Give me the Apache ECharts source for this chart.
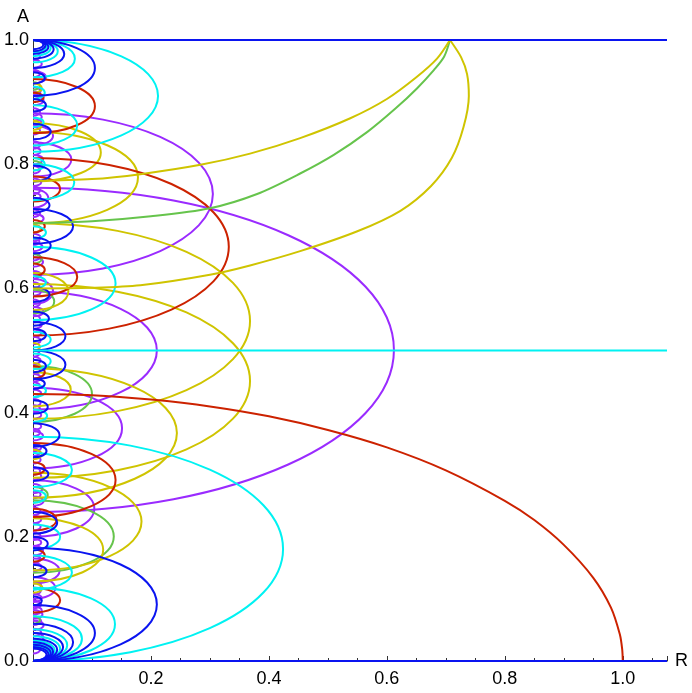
<!DOCTYPE html>
<html><head><meta charset="utf-8">
<script src="https://cdn.jsdelivr.net/npm/echarts/dist/echarts.min.js"></script>
<style>html,body{margin:0;padding:0;background:#fff}#c{width:692px;height:693px}</style>
</head><body><div id="c"></div>
<script>
// ---- data (R = x, A = y) ----
const xTickValues = [0.2,0.4,0.6,0.8,1.0];
const xTickLabels = ['0.2','0.4','0.6','0.8','1.0'];
const yTickLabels = ['0.0','0.2','0.4','0.6','0.8','1.0'];

const lineTopBlue = [[0,1],[1.075,1]];
const lineBottomBlue = [[0,0],[1.075,0]];
const lineMidCyan = [[0,0.5],[1.075,0.5]];

const redQuarter = [[1.0,0],[0.999,0.019],[0.995,0.043],[0.98,0.086],[0.95,0.134],[0.9,0.187],[0.85,0.227],[0.8,0.258],[0.7,0.307],[0.6,0.344],[0.5,0.372],[0.4,0.394],[0.3,0.41],[0.2,0.421],[0.1,0.428],[0,0.43]];
const greenToCorner = [[0,0.705],[0.1,0.708],[0.2,0.716],[0.3,0.729],[0.38,0.752],[0.453,0.785],[0.51,0.815],[0.567,0.852],[0.615,0.89],[0.651,0.922],[0.68,0.952],[0.697,0.973],[0.707,1.0]];
const yellowUpperToCorner = [[0,0.773],[0.1,0.776],[0.182,0.784],[0.284,0.799],[0.368,0.817],[0.453,0.842],[0.538,0.874],[0.6,0.905],[0.65,0.94],[0.685,0.97],[0.707,1.0]];
const yellowLowerToCorner = [[0,0.6],[0.1,0.601],[0.182,0.605],[0.3,0.622],[0.368,0.637],[0.453,0.66],[0.55,0.692],[0.623,0.725],[0.675,0.765],[0.71,0.81],[0.73,0.86],[0.739,0.91],[0.736,0.945],[0.726,0.972],[0.707,1.0]];

// half-ellipse arcs on the A axis: [A low end, A high end, R at widest point]
const blueArcs = [
  [0,0.182,0.21],[0,0.09,0.105],[0,0.06,0.068],[0,0.045,0.051],[0,0.036,0.041],[0,0.03,0.034],[0,0.026,0.03],[0,0.0225,0.026],[0,0.02,0.023],
  [0.91,1,0.105],[0.955,1,0.053],[0.97,1,0.035],[0.9775,1,0.026],[0.982,1,0.021],[0.985,1,0.0175],
  [0.454,0.5,0.055],[0.5,0.546,0.055],[0.672,0.728,0.068],
  [0.345,0.383,0.045],[0.205,0.24,0.041],[0.29,0.312,0.026],
  [0.84,0.865,0.03],[0.772,0.798,0.03],[0.722,0.746,0.028],[0.656,0.682,0.03],[0.578,0.602,0.028],[0.54,0.563,0.027],
  [0.515,0.535,0.022],[0.465,0.485,0.022],[0.438,0.455,0.02],[0.398,0.42,0.025],[0.328,0.348,0.023],[0.178,0.2,0.025],
  [0.135,0.155,0.023],[0.09,0.104,0.015],[0.885,0.905,0.022],[0.93,0.948,0.02]
];
const cyanArcs = [
  [0,0.361,0.424],[0,0.118,0.139],[0,0.072,0.083],[0,0.051,0.058],[0,0.04,0.046],[0,0.033,0.037],[0,0.028,0.032],[0,0.024,0.028],
  [0.82,1,0.212],[0.94,1,0.071],[0.964,1,0.042],[0.974,1,0.03],[0.98,1,0.023],
  [0.549,0.667,0.14],[0.742,0.8,0.07],[0.83,0.895,0.075],[0.28,0.335,0.066],[0.115,0.17,0.066],[0.18,0.22,0.046],
  [0.505,0.53,0.03],[0.47,0.495,0.03],[0.385,0.405,0.024],[0.425,0.445,0.022],[0.6,0.62,0.022],[0.68,0.7,0.022],
  [0.255,0.275,0.022],[0.86,0.875,0.018],[0.79,0.81,0.02],[0.905,0.925,0.02]
];
const redArcs = [
  [0.524,0.81,0.332],[0.85,0.937,0.105],[0.587,0.65,0.075],[0.74,0.78,0.046],[0.232,0.351,0.14],[0.078,0.118,0.046],
  [0.21,0.245,0.04],[0.62,0.64,0.02],[0.455,0.475,0.02],[0.3,0.32,0.02],[0.16,0.18,0.02],[0.69,0.71,0.02],[0.9,0.915,0.018]
];
const purpleArcs = [
  [0.24,0.762,0.612],[0.622,0.882,0.305],[0.405,0.595,0.21],[0.31,0.44,0.151],[0.2,0.291,0.104],[0.78,0.835,0.065],
  [0.125,0.165,0.045],[0.1,0.135,0.038],[0.575,0.615,0.034],[0.83,0.862,0.034],[0.73,0.76,0.026],[0.93,0.95,0.022],
  [0.03,0.045,0.018],[0.05,0.065,0.018],[0.068,0.082,0.016],[0.145,0.158,0.015],[0.17,0.185,0.017],[0.25,0.265,0.018],
  [0.27,0.285,0.016],[0.355,0.37,0.017],[0.39,0.402,0.014],[0.45,0.462,0.014],[0.535,0.548,0.015],[0.555,0.57,0.018],
  [0.635,0.65,0.017],[0.66,0.674,0.016],[0.705,0.72,0.018],[0.8,0.815,0.017],[0.87,0.882,0.015],[0.895,0.91,0.018],[0.955,0.968,0.015],
  [0.085,0.097,0.014],[0.107,0.118,0.013],[0.185,0.197,0.014],[0.222,0.234,0.014],[0.292,0.304,0.014],[0.318,0.33,0.013],
  [0.338,0.35,0.014],[0.372,0.384,0.014],[0.41,0.422,0.013],[0.425,0.437,0.014],[0.478,0.49,0.013],[0.51,0.522,0.013],
  [0.522,0.534,0.014],[0.588,0.6,0.013],[0.616,0.628,0.014],[0.676,0.688,0.013],[0.69,0.702,0.014],[0.742,0.754,0.013],
  [0.765,0.777,0.014],[0.815,0.827,0.013],[0.862,0.874,0.014],[0.912,0.924,0.013],[0.968,0.98,0.012],
  [0.012,0.024,0.012],[0.02,0.032,0.012],[0.04,0.052,0.014],[0.058,0.07,0.014],[0.075,0.088,0.015],[0.095,0.108,0.015],
  [0.115,0.128,0.014],[0.158,0.17,0.013],[0.195,0.207,0.013],[0.21,0.222,0.013],[0.235,0.247,0.013],[0.262,0.274,0.013],
  [0.3,0.312,0.012],[0.33,0.342,0.012],[0.362,0.374,0.012],[0.4,0.412,0.012],[0.437,0.449,0.012],[0.462,0.474,0.012],
  [0.49,0.5,0.011],[0.545,0.557,0.012],[0.57,0.582,0.012],[0.6,0.61,0.011],[0.645,0.657,0.012],[0.67,0.68,0.011],
  [0.715,0.727,0.012],[0.752,0.764,0.012],[0.785,0.797,0.012],[0.825,0.837,0.012],[0.848,0.86,0.012],[0.878,0.89,0.012],
  [0.905,0.917,0.012],[0.94,0.952,0.012]
];
const yellowArcs = [
  [0.39,0.705,0.368],[0.295,0.607,0.368],[0.263,0.471,0.244],[0.146,0.303,0.184],[0.128,0.23,0.119],[0.705,0.852,0.178],
  [0.772,0.866,0.115],[0.41,0.465,0.064],[0.565,0.625,0.06],
  [0.11,0.125,0.016],[0.325,0.34,0.015],[0.855,0.87,0.015],[0.915,0.93,0.015],[0.5,0.512,0.012],[0.69,0.702,0.013],[0.47,0.48,0.012]
];
const greenArcs = [
  [0.142,0.259,0.137],[0.385,0.475,0.1],[0.56,0.598,0.036],[0.255,0.28,0.025],[0.79,0.805,0.016],[0.64,0.655,0.015],[0.06,0.072,0.012],[0.92,0.932,0.012]
];

// ---- colours ----
const C = {blue:'#0a14f0', cyan:'#00f2f2', red:'#cc2200', purple:'#9a2bff', yellow:'#cfc400', green:'#66c44c'};
const FONT = 'Liberation Sans, Arial, sans-serif';

function arcRenderer(color){
  return function(params, api){
    const lo = api.value(0), hi = api.value(1), r = api.value(2);
    const top = api.coord([0, hi]), bot = api.coord([0, lo]), side = api.coord([r, (lo+hi)/2]);
    const cx = top[0], rx = side[0] - cx, ry = (bot[1] - top[1]) / 2, cy = (top[1] + bot[1]) / 2, k = 0.5523;
    const d = 'M' + cx + ' ' + top[1] +
      ' C' + (cx + k*rx) + ' ' + top[1] + ' ' + (cx + rx) + ' ' + (cy - k*ry) + ' ' + (cx + rx) + ' ' + cy +
      ' C' + (cx + rx) + ' ' + (cy + k*ry) + ' ' + (cx + k*rx) + ' ' + bot[1] + ' ' + cx + ' ' + bot[1];
    return {type:'path', shape:{pathData:d}, style:{fill:'none', stroke:color, lineWidth:2}};
  };
}
function arcSeries(data, color){
  return {type:'custom', data:data, renderItem:arcRenderer(color), animation:false, silent:true, z:2, clip:true};
}
function lineSeries(data, color, smooth){
  return {type:'line', data:data, smooth:smooth, showSymbol:false, animation:false, silent:true, z:3,
    lineStyle:{color:color, width:2}};
}

const chart = echarts.init(document.getElementById('c'), null, {renderer:'canvas'});
const axisCommon = {
  type:'value', splitLine:{show:false},
  axisLine:{show:true, onZero:false, lineStyle:{color:'#333', width:1}},
  axisTick:{show:true, inside:true, length:5, lineStyle:{color:'#333'}},
  minorTick:{show:true, splitNumber:4, length:3, lineStyle:{color:'#333'}},
  nameTextStyle:{fontFamily:FONT, fontSize:18, color:'#000'}
};
chart.setOption({
  backgroundColor:'#fff',
  grid:{left:33, right:25, top:40, bottom:32, containLabel:false},
  xAxis:Object.assign({}, axisCommon, {
    min:0, max:1.075, interval:0.2, name:'R', nameLocation:'end', nameGap:8,
    axisLabel:{fontFamily:FONT, fontSize:18, color:'#000', margin:9, showMaxLabel:false,
      formatter:function(v){
        for (let i = 0; i < xTickValues.length; i++) { if (Math.abs(v - xTickValues[i]) < 1e-6) return xTickLabels[i]; }
        return '';
      }}
  }),
  yAxis:Object.assign({}, axisCommon, {
    min:0, max:1, interval:0.2, name:'A', nameLocation:'end', nameGap:14,
    nameTextStyle:{fontFamily:FONT, fontSize:18, color:'#000', align:'right', padding:[0,4,0,0]},
    axisLabel:{fontFamily:FONT, fontSize:18, color:'#000', margin:4,
      formatter:function(v){ const i = Math.round(v/0.2); return yTickLabels[i] || ''; }}
  }),
  series:[
    arcSeries(purpleArcs, C.purple),
    arcSeries(greenArcs, C.green),
    arcSeries(yellowArcs, C.yellow),
    arcSeries(redArcs, C.red),
    arcSeries(cyanArcs, C.cyan),
    arcSeries(blueArcs, C.blue),
    lineSeries(redQuarter, C.red, 0.3),
    lineSeries(greenToCorner, C.green, 0.3),
    lineSeries(yellowUpperToCorner, C.yellow, 0.3),
    lineSeries(yellowLowerToCorner, C.yellow, 0.3),
    lineSeries(lineMidCyan, C.cyan, false),
    lineSeries(lineTopBlue, C.blue, false),
    lineSeries(lineBottomBlue, C.blue, false)
  ]
});
</script></body></html>
